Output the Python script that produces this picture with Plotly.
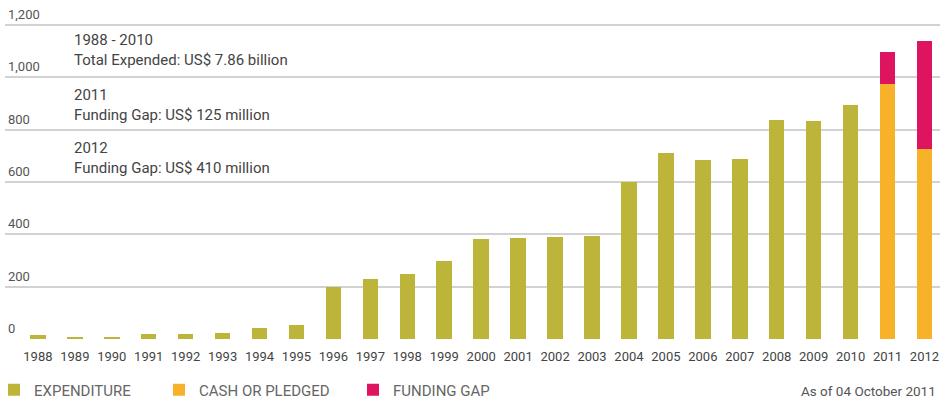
import plotly.graph_objects as go

years = [str(y) for y in range(1988, 2013)]
expenditure = [15, 9, 9, 20, 20, 23, 41, 55, 200, 228, 247, 297, 383, 387, 390, 395,
               601, 711, 684, 688, 837, 833, 894, None, None]
cash_or_pledged = [None] * 23 + [973, 728]
funding_gap = [None] * 23 + [125, 410]

y_ticks = [0, 200, 400, 600, 800, 1000, 1200]
y_ticktext = ["0", "200", "400", "600", "800", "1,000", "1,200"]

notes = [
    "1988 - 2010<br>Total Expended: US$ 7.86 billion",
    "2011<br>Funding Gap: US$ 125 million",
    "2012<br>Funding Gap: US$ 410 million",
]

C_EXP = "#BDB53A"
C_CASH = "#F8B22A"
C_GAP = "#DF1460"
FONT = "Roboto"

W, H = 940, 403
# plot area in pixels: x 5..940, y 5..339 ; y=0 at 339, 1200 at 25
L, R, T, B = 5, 940, 5, 339
PX_PER_UNIT = (339 - 25) / 1200.0
Y_TOP = (B - T) / PX_PER_UNIT


def pxx(x):
    return (x - L) / (R - L)


def pxy(y):
    return (B - y) / (B - T)


fig = go.Figure()
fig.add_trace(go.Bar(x=years, y=expenditure, name="EXPENDITURE",
                     marker=dict(color=C_EXP, line=dict(width=0)), legend="legend"))
fig.add_trace(go.Bar(x=years, y=cash_or_pledged, name="CASH OR PLEDGED",
                     marker=dict(color=C_CASH, line=dict(width=0)), legend="legend2"))
fig.add_trace(go.Bar(x=years, y=funding_gap, name="FUNDING GAP",
                     marker=dict(color=C_GAP, line=dict(width=0)), legend="legend3"))

legend_common = dict(orientation="h", xref="paper", yref="paper",
                     yanchor="middle", y=pxy(390), xanchor="left",
                     font=dict(family=FONT, size=15, color="#666666"),
                     bgcolor="rgba(0,0,0,0)", borderwidth=0)

annotations = []
# y-axis tick labels, drawn just above each gridline at the left edge
for v, t in zip(y_ticks, y_ticktext):
    annotations.append(dict(text=t, xref="paper", yref="y", x=0, y=v, xshift=1, yshift=1,
                            xanchor="left", yanchor="bottom", showarrow=False,
                            font=dict(family=FONT, size=13, color="#555555")))
for text, yc in zip(notes, [50, 104.5, 157.5]):
    annotations.append(dict(text=text, xref="paper", yref="paper", x=pxx(72),
                            y=pxy(yc),
                            xanchor="left", yanchor="middle", align="left", showarrow=False,
                            font=dict(family=FONT, size=15, color="#444444")))
annotations.append(dict(text="As of 04 October 2011", xref="paper", yref="paper",
                        x=pxx(938), y=pxy(391), xanchor="right",
                        yanchor="middle", showarrow=False,
                        font=dict(family=FONT, size=13.5, color="#555555")))

fig.update_layout(
    width=W, height=H,
    margin=dict(l=L, r=W - R, t=T, b=H - B, autoexpand=False),
    barmode="stack", bargap=0.58,
    plot_bgcolor="white", paper_bgcolor="white",
    showlegend=True,
    legend=dict(**legend_common, x=pxx(-6)),
    legend2=dict(**legend_common, x=pxx(159)),
    legend3=dict(**legend_common, x=pxx(353)),
    annotations=annotations,
    xaxis=dict(type="category", range=[-0.89, 24.42], showgrid=False, showline=False,
               ticks="", ticklabelstandoff=8,
               tickfont=dict(family=FONT, size=13, color="#444444")),
    yaxis=dict(range=[0, Y_TOP], tickvals=y_ticks, showticklabels=False,
               showgrid=True, gridcolor="#d2d2d2",
               gridwidth=2, zeroline=False, showline=False, ticks=""),
)

fig.write_html("out.html", config={"displayModeBar": False},
               post_script="document.body.style.margin='0';")
